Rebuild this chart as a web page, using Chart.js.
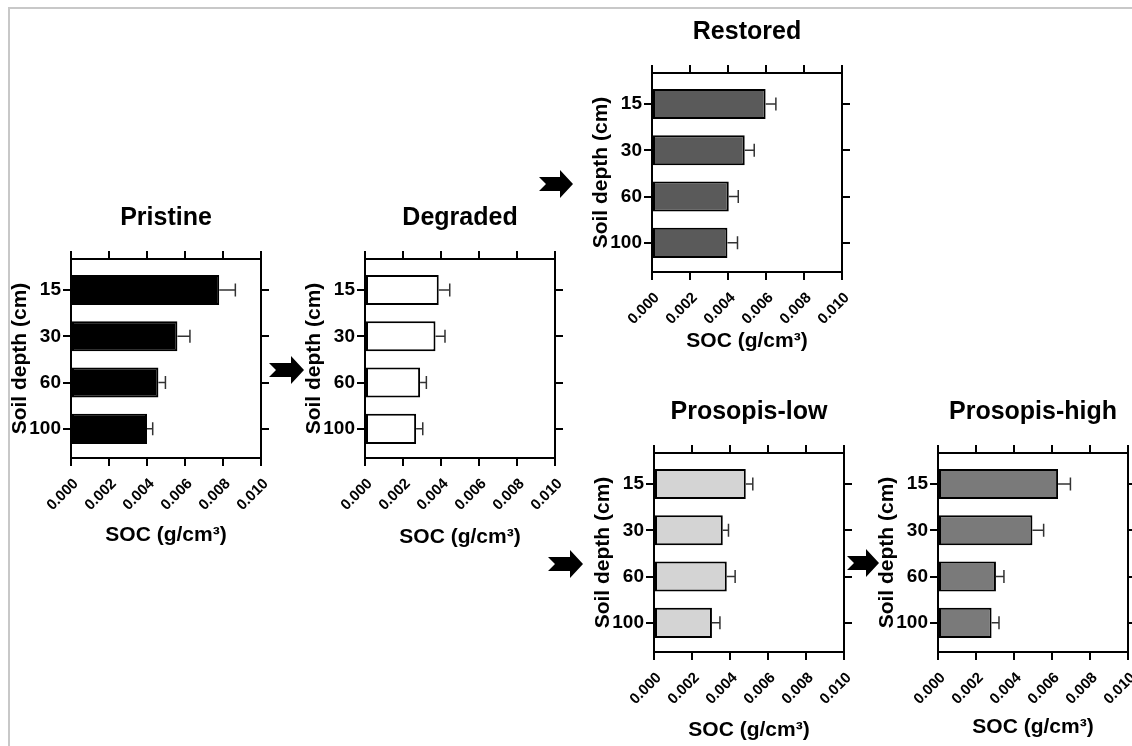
<!DOCTYPE html>
<html>
<head>
<meta charset="utf-8">
<script src="https://cdn.jsdelivr.net/npm/chart.js@4.4.1/dist/chart.umd.min.js"></script>
<style>
  body { margin: 0; background: #fff; }
  #page { position: relative; width: 1132px; height: 746px; overflow: hidden; background: #fff; }
  #frame { position: absolute; left: 8px; top: 7px; right: 0; bottom: 0;
           border-top: 2px solid #c8c8c8; border-left: 2px solid #c8c8c8; }
  .panel { position: absolute; width: 268px; height: 358px; }
  #arrows { position: absolute; left: 0; top: 0; pointer-events: none; }
</style>
</head>
<body>
<div id="page">
  <div id="frame"></div>
  <div class="panel" style="left:3px;top:195px"><canvas id="pristine" width="268" height="358"></canvas></div>
  <div class="panel" style="left:297px;top:195px"><canvas id="degraded" width="268" height="358"></canvas></div>
  <div class="panel" style="left:584px;top:9px"><canvas id="restored" width="268" height="358"></canvas></div>
  <div class="panel" style="left:586px;top:389px"><canvas id="low" width="268" height="358"></canvas></div>
  <div class="panel" style="left:870px;top:389px"><canvas id="high" width="268" height="358"></canvas></div>
  <svg id="arrows" width="1132" height="746"></svg>
</div>
<script>
// depth categories and SOC axis ticks
const depthLabels = ['15', '30', '60', '100'];
const socTicks = [0, 0.002, 0.004, 0.006, 0.008, 0.010];

// SOC (g/cm3) means and error, per depth
const pristineSoc = [0.0078, 0.0056, 0.0046, 0.0040];
const pristineErr = [0.00085, 0.00066, 0.00037, 0.00030];
const degradedSoc = [0.00388, 0.00371, 0.00290, 0.00269];
const degradedErr = [0.00058, 0.00050, 0.00033, 0.00035];
const restoredSoc = [0.00598, 0.00488, 0.00404, 0.00397];
const restoredErr = [0.00054, 0.00050, 0.00050, 0.00053];
const lowSoc = [0.00483, 0.00362, 0.00383, 0.00305];
const lowErr = [0.00037, 0.00030, 0.00044, 0.00042];
const highSoc = [0.00632, 0.00497, 0.00305, 0.00282];
const highErr = [0.00065, 0.00059, 0.00042, 0.00039];

Chart.defaults.font.family = "'Liberation Sans', Arial, sans-serif";
Chart.defaults.color = '#000';

const errorBars = {
  id: 'errorBars',
  afterDatasetsDraw(chart, args, opts) {
    const ctx = chart.ctx;
    const xs = chart.scales.x;
    const vals = chart.data.datasets[0].data;
    ctx.save();
    ctx.strokeStyle = '#333';
    ctx.lineWidth = 1.5;
    chart.getDatasetMeta(0).data.forEach((bar, i) => {
      const x0 = xs.getPixelForValue(vals[i].x);
      const x1 = xs.getPixelForValue(vals[i].x + opts.errors[i]);
      ctx.beginPath();
      ctx.moveTo(x0, bar.y);
      ctx.lineTo(x1, bar.y);
      ctx.moveTo(x1, bar.y - 6.5);
      ctx.lineTo(x1, bar.y + 6.5);
      ctx.stroke();
    });
    ctx.restore();
  }
};

const depthTicks = (s) => { s.ticks = depthLabels.map((_, i) => ({value: i})); };
const socTickList = (s) => { s.ticks = socTicks.map(v => ({value: v})); };
const edge = {color: '#000', width: 2};
const tickGrid = {drawOnChartArea: false, offset: false, tickLength: 8, color: '#000', lineWidth: 2};

const makePanel = (id, title, values, errors, fill, gap) => {
  new Chart(document.getElementById(id), {
    type: 'bar',
    data: {
      datasets: [{
        data: values.map((v, i) => ({x: v, y: i})),
        backgroundColor: fill,
        borderColor: '#000',
        borderWidth: 2,
        borderSkipped: false,
        categoryPercentage: 1,
        barPercentage: 0.65
      }]
    },
    options: {
      indexAxis: 'y',
      responsive: false,
      animation: false,
      layout: {padding: 0},
      scales: {
        x: {
          type: 'linear', min: 0, max: 0.01,
          afterBuildTicks: socTickList,
          ticks: {callback: (v) => v.toFixed(3), minRotation: 45, maxRotation: 45,
                  font: {size: 15, weight: 'bold'}, padding: 9, labelOffset: 5},
          grid: tickGrid,
          border: edge,
          title: {display: true, text: 'SOC (g/cm³)', font: {size: 21, weight: 'bold'},
                  padding: {top: 0, bottom: 95 - 12.6 - gap}},
          afterFit: (s) => { s.height = 95; s.paddingLeft = 0; s.paddingRight = 0; }
        },
        x2: {
          type: 'linear', position: 'top', min: 0, max: 0.01,
          afterBuildTicks: socTickList,
          ticks: {display: false},
          grid: tickGrid,
          border: edge,
          afterFit: (s) => { s.height = 8; s.paddingLeft = 0; s.paddingRight = 0; }
        },
        y: {
          type: 'linear', reverse: true, offset: false, min: -0.67, max: 3.63,
          afterBuildTicks: depthTicks,
          ticks: {callback: (v) => depthLabels[v], font: {size: 19, weight: 'bold'}, padding: 2},
          grid: tickGrid,
          border: edge,
          title: {display: true, text: 'Soil depth (cm)', font: {size: 21, weight: 'bold'},
                  padding: {top: 5, bottom: 0}},
          afterFit: (s) => { s.width = 68; s.paddingTop = 0; s.paddingBottom = 0; }
        },
        y2: {
          type: 'linear', position: 'right', reverse: true, offset: false, min: -0.67, max: 3.63,
          afterBuildTicks: depthTicks,
          ticks: {display: false},
          grid: tickGrid,
          border: edge,
          afterFit: (s) => { s.width = 10; s.paddingTop = 0; s.paddingBottom = 0; }
        }
      },
      plugins: {
        legend: {display: false},
        tooltip: {enabled: false},
        title: {display: true, text: title, fullSize: false, color: '#000',
                font: {size: 25, weight: 'bold'}, padding: {top: 8, bottom: 18}},
        errorBars: {errors: errors}
      }
    },
    plugins: [errorBars]
  });
};

makePanel('pristine', 'Pristine', pristineSoc, pristineErr, '#000000', 77);
makePanel('degraded', 'Degraded', degradedSoc, degradedErr, '#ffffff', 79);
makePanel('restored', 'Restored', restoredSoc, restoredErr, '#5a5a5a', 69);
makePanel('low', 'Prosopis-low', lowSoc, lowErr, '#d4d4d4', 78);
makePanel('high', 'Prosopis-high', highSoc, highErr, '#7a7a7a', 75);

// block arrows between panels: tail x, tip x, centre y
const arrows = [[269, 304, 370], [539, 573, 184], [548, 583, 564], [847, 879, 563]];
const svg = document.getElementById('arrows');
arrows.forEach(([x0, x1, cy]) => {
  const xh = x1 - 13;
  const pts = [[x0, cy - 7], [xh, cy - 7], [xh, cy - 14], [x1, cy], [xh, cy + 14],
               [xh, cy + 7], [x0, cy + 7], [x0 + 7, cy]];
  const p = document.createElementNS('http://www.w3.org/2000/svg', 'polygon');
  p.setAttribute('points', pts.map(q => q.join(',')).join(' '));
  p.setAttribute('fill', '#000');
  svg.appendChild(p);
});
</script>
</body>
</html>
